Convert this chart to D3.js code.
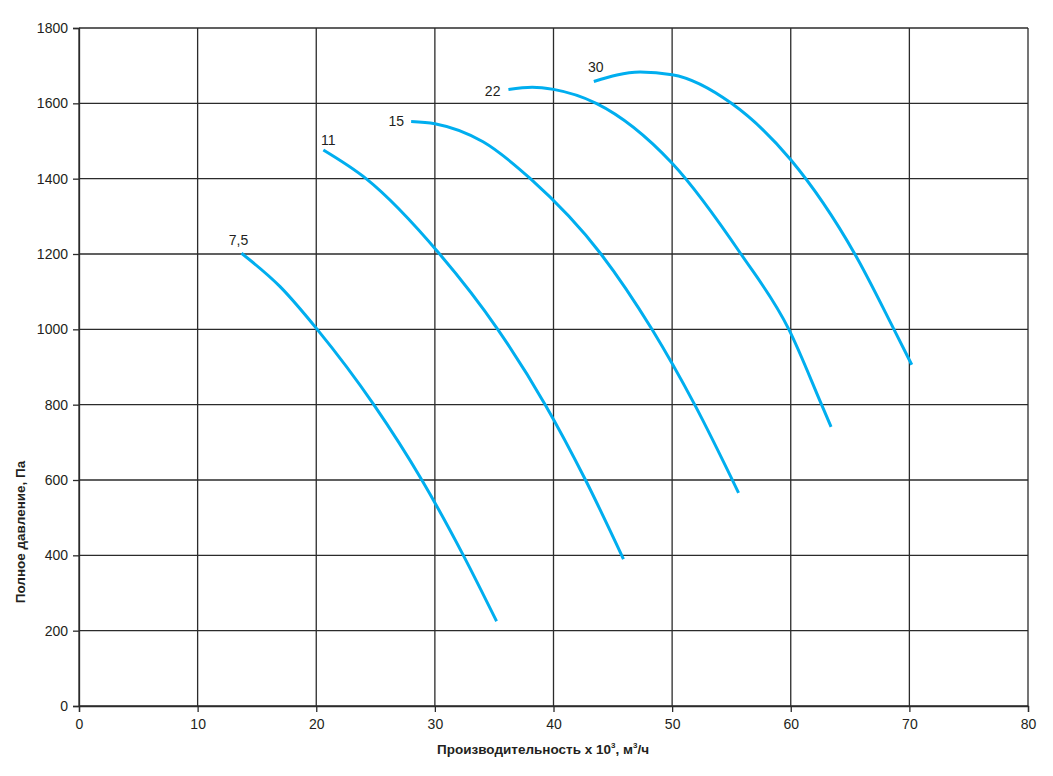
<!DOCTYPE html>
<html>
<head>
<meta charset="utf-8">
<script src="https://cdn.jsdelivr.net/npm/d3@7"></script>
<style>
	body { margin: 0; background: #fff; }
	svg text { font-family: "Liberation Sans", Arial, sans-serif; fill: #231f20; }
	.axisTitle { font-family: "Liberation Sans Narrow", "Arial Narrow", "Liberation Sans", sans-serif; font-weight: bold; font-size: 13.5px; }
</style>
</head>
<body>
<div id="chartDiv"></div>
<script>

// Data: fan curves, flow in 10^3 m3/h vs. total pressure in Pa

var seriesNames = ["7,5", "11", "15", "22", "30"];

var flow75  = [13.7, 16.93, 20.08, 24.85, 28.9, 32.4, 35.2];
var pres75  = [1202, 1114,  1000,  800,   600,  400,  225];

var flow11  = [20.6, 24.2, 30.4, 35.3, 39.3, 42.7, 45.9];
var pres11  = [1476, 1400, 1200, 1000, 800,  600,  390];

var flow15  = [28.0, 30.0, 34.06, 38.05, 44.0, 48.3, 51.9, 55.6];
var pres15  = [1552, 1546, 1498,  1400,  1200, 1000, 800,  566];

var flow22  = [36.2, 38.2, 40.0, 43.6, 50.0, 55.8, 59.84, 62.6, 63.4];
var pres22  = [1637, 1643, 1637, 1600, 1441, 1200, 1000,  800,  741];

var flow30  = [43.4, 47.3, 50.0, 55.0, 60.0, 65.4, 68.7, 70.2];
var pres30  = [1658, 1683, 1676, 1600, 1450, 1200, 1000, 906];

var xTicks  = [0, 10, 20, 30, 40, 50, 60, 70, 80];
var yTicks  = [0, 200, 400, 600, 800, 1000, 1200, 1400, 1600, 1800];

var flows     = [flow75, flow11, flow15, flow22, flow30];
var pressures = [pres75, pres11, pres15, pres22, pres30];

// Layout constants

var WIDTH   = 1053;
var HEIGHT  = 776;
var MARGIN  = {top: 28, right: 25, bottom: 70, left: 79};
var CURVE_COLOR = "#00aeef";
var GRID_COLOR  = "#2b2b2b";

// Label placement relative to first point of each curve: [dx, dy, anchor]
var LABEL_OFFSETS = [
	[-3, -8, "middle"],
	[ 5, -5, "middle"],
	[-7,  5, "end"],
	[-8,  7, "end"],
	[ 2, -9, "middle"]
];

/*---------------------------
| build chart
-----------------*/

var svg = d3.select("#chartDiv").append("svg")
	.attr("width", WIDTH)
	.attr("height", HEIGHT);

var x = d3.scaleLinear()
	.domain([0, 80])
	.range([MARGIN.left, WIDTH - MARGIN.right]);

var y = d3.scaleLinear()
	.domain([0, 1800])
	.range([HEIGHT - MARGIN.bottom, MARGIN.top]);

// Gridlines:
var grid = svg.append("g").attr("class", "grid");

grid.selectAll("line.v")
	.data(xTicks)
	.enter().append("line")
	  .attr("class", "v")
	  .attr("x1", d => x(d)).attr("x2", d => x(d))
	  .attr("y1", y(0)).attr("y2", y(1800))
	  .attr("stroke", GRID_COLOR)
	  .attr("stroke-width", 1.3);

grid.selectAll("line.h")
	.data(yTicks)
	.enter().append("line")
	  .attr("class", "h")
	  .attr("x1", x(0)).attr("x2", x(80))
	  .attr("y1", d => y(d)).attr("y2", d => y(d))
	  .attr("stroke", GRID_COLOR)
	  .attr("stroke-width", 1.3);

// Axes:
var xAxis = svg.append("g")
	.attr("transform", `translate(0,${y(0)})`)
	.call(d3.axisBottom(x).tickValues(xTicks).tickFormat(d3.format("d"))
		.tickSize(6).tickPadding(7));

var yAxis = svg.append("g")
	.attr("transform", `translate(${x(0)},0)`)
	.call(d3.axisLeft(y).tickValues(yTicks).tickFormat(d3.format("d"))
		.tickSize(6).tickPadding(5));

[xAxis, yAxis].forEach(function(ax) {
	ax.select(".domain").attr("stroke", GRID_COLOR).attr("stroke-width", 1.3);
	ax.selectAll(".tick line").attr("stroke", GRID_COLOR).attr("stroke-width", 1.3);
	ax.selectAll(".tick text")
		.attr("font-family", "Liberation Sans, Arial, sans-serif")
		.attr("font-size", 14)
		.attr("fill", "#231f20");
});

// Curves:
var line = d3.line()
	.x(d => x(d[0]))
	.y(d => y(d[1]))
	.curve(d3.curveMonotoneX);

var curves = seriesNames.map(function(name, i) {
	return flows[i].map((f, j) => [f, pressures[i][j]]);
});

svg.append("g").selectAll("path")
	.data(curves)
	.enter().append("path")
	  .attr("d", line)
	  .attr("fill", "none")
	  .attr("stroke", CURVE_COLOR)
	  .attr("stroke-width", 3);

// Curve labels (motor power):
svg.append("g").selectAll("text")
	.data(seriesNames)
	.enter().append("text")
	  .attr("x", (d, i) => x(flows[i][0]) + LABEL_OFFSETS[i][0])
	  .attr("y", (d, i) => y(pressures[i][0]) + LABEL_OFFSETS[i][1])
	  .attr("text-anchor", (d, i) => LABEL_OFFSETS[i][2])
	  .attr("font-size", 14)
	  .text(d => d);

// Axis titles:
var xTitle = svg.append("text")
	.attr("class", "axisTitle")
	.attr("x", 543)
	.attr("y", 754)
	.attr("text-anchor", "middle");
xTitle.append("tspan").text("Производительность х 10");
xTitle.append("tspan").attr("dy", -6).attr("font-size", 8).text("3");
xTitle.append("tspan").attr("dy", 6).text(", м");
xTitle.append("tspan").attr("dy", -6).attr("font-size", 8).text("3");
xTitle.append("tspan").attr("dy", 6).text("/ч");

svg.append("text")
	.attr("class", "axisTitle")
	.attr("transform", "translate(25,532) rotate(-90)")
	.attr("text-anchor", "middle")
	.text("Полное давление, Па");

</script>
</body>
</html>
